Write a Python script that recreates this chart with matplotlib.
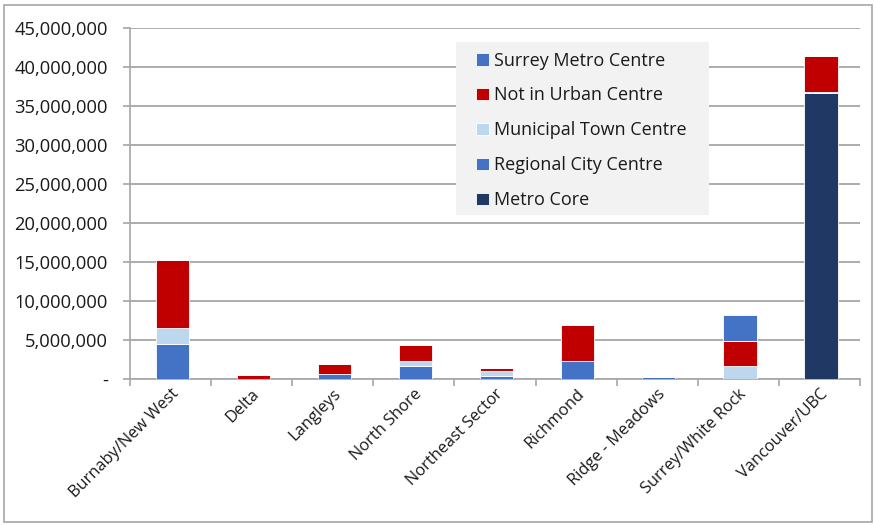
import matplotlib.pyplot as plt
from matplotlib.ticker import FuncFormatter, FixedLocator
from matplotlib.patches import Rectangle
import numpy as np

plt.rcParams['font.family'] = ['Open Sans', 'DejaVu Sans']

# 지역별 값 (아래에서 위로 쌓는 순서)
regions = ['Burnaby/New West', 'Delta', 'Langleys', 'North Shore', 'Northeast Sector',
           'Richmond', 'Ridge - Meadows', 'Surrey/White Rock', 'Vancouver/UBC']
metro_core = [0, 0, 0, 0, 0, 0, 0, 0, 36700000]
regional_city = [4500000, 0, 650000, 1700000, 420000, 2300000, 250000, 0, 0]
municipal_town = [2000000, 0, 0, 600000, 580000, 0, 0, 1700000, 150000]
not_urban = [8800000, 450000, 1250000, 2000000, 400000, 4600000, 0, 3200000, 4550000]
surrey_metro = [0, 0, 0, 0, 0, 0, 0, 3300000, 0]

series = [
    ('Metro Core', metro_core, '#1F3864'),
    ('Regional City Centre', regional_city, '#4472C4'),
    ('Municipal Town Centre', municipal_town, '#BDD7EE'),
    ('Not in Urban Centre', not_urban, '#C00000'),
    ('Surrey Metro Centre', surrey_metro, '#4472C4'),
]

W, H = 876, 525
fig = plt.figure(figsize=(W / 100, H / 100), dpi=100)
ax = fig.add_axes([130 / W, 1 - 379 / H, 730 / W, 351 / H])

x = np.arange(len(regions)) + 0.02
bottom = np.zeros(len(regions))
bars = []
for name, vals, col in series:
    v = np.array(vals, dtype=float)
    b = ax.bar(x, v, 0.41, bottom=bottom, color=col, label=name,
               edgecolor='white', linewidth=0.6, zorder=3)
    bars.append(b)
    bottom += v

ax.set_xlim(-0.5, len(regions) - 0.5)
ax.set_ylim(0, 45000000)
ax.set_yticks(np.arange(0, 45000001, 5000000))
ax.yaxis.set_major_formatter(FuncFormatter(lambda v, p: '-' if v == 0 else f'{int(v):,}'))
ax.yaxis.grid(True, color='#A6A6A6', linewidth=1.3, zorder=0)

# 카테고리 경계에 눈금
ax.set_xticks(np.arange(len(regions)))
ax.set_xticklabels(regions, rotation=45, ha='right', rotation_mode='anchor', fontsize=11.8)
ax.tick_params(axis='x', length=0, pad=5)
ax.xaxis.set_minor_locator(FixedLocator(np.arange(-0.5, len(regions), 1)))
ax.tick_params(axis='x', which='minor', length=5, color='#A6A6A6', width=1.2)
ax.tick_params(axis='y', length=5, color='#A6A6A6', width=1.2, labelsize=13.2, pad=11)
for t in ax.get_yticklabels() + ax.get_xticklabels():
    t.set_color('#1A1A1A')

for s in ['top', 'right']:
    ax.spines[s].set_visible(False)
for s in ['left', 'bottom']:
    ax.spines[s].set_color('#A6A6A6')
    ax.spines[s].set_linewidth(1.2)

# 범례 배경 박스
fig.patches.append(Rectangle((456 / W, 1 - 215 / H), 253 / W, 173 / H, transform=fig.transFigure,
                             facecolor='#F2F2F2', edgecolor='none', zorder=4))

handles = [bars[i] for i in [4, 3, 2, 1, 0]]
labels = [series[i][0] for i in [4, 3, 2, 1, 0]]
leg = fig.legend(handles, labels, loc='upper left', bbox_to_anchor=(476 / W, 1 - 51.5 / H),
                 frameon=False, fontsize=13, labelspacing=0.94, handlelength=0.7,
                 handleheight=0.7, handletextpad=0.3, borderpad=0, borderaxespad=0)
leg.set_zorder(5)
for t in leg.get_texts():
    t.set_color('#1A1A1A')

# 바깥 테두리
fig.patches.append(Rectangle((4 / W, 3 / H), 868 / W, 517 / H, transform=fig.transFigure,
                             fill=False, edgecolor='#A6A6A6', linewidth=1.2))

fig.savefig('out.png', dpi=100)
